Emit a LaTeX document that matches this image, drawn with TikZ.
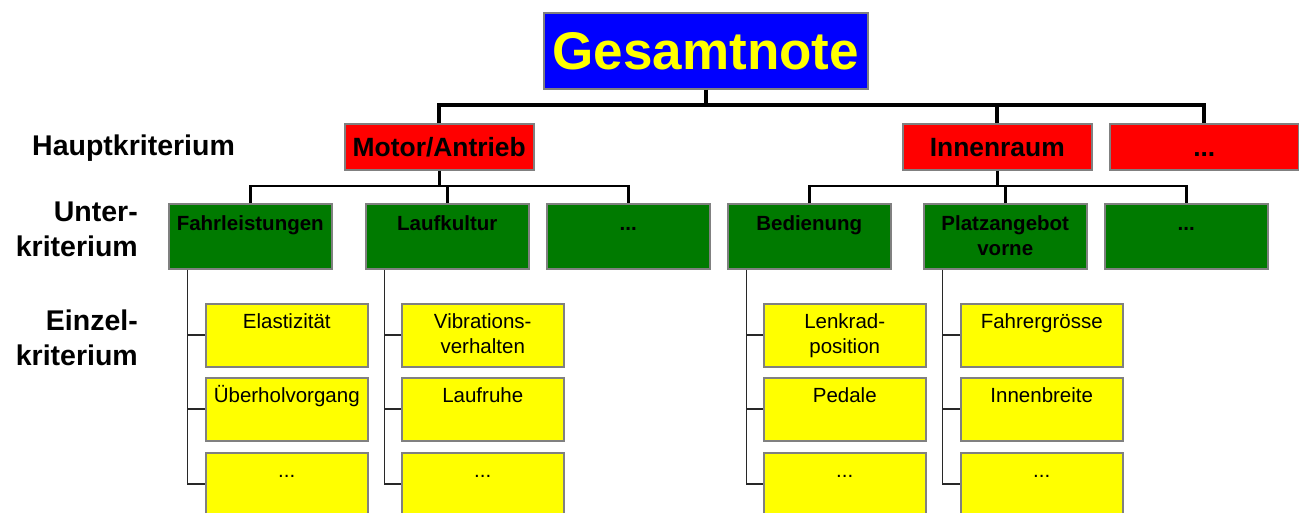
\documentclass[tikz,border=0pt]{standalone}
\usepackage{fontspec}
\setmainfont{Liberation Sans}
\definecolor{bordergray}{RGB}{128,128,128}
\definecolor{topblue}{RGB}{0,0,255}
\definecolor{mainred}{RGB}{255,0,0}
\definecolor{subgreen}{RGB}{0,122,0}
\definecolor{leafyellow}{RGB}{255,255,0}
\definecolor{leafline}{RGB}{40,40,40}
\begin{document}
\begin{tikzpicture}[x=1pt,y=-1pt,
  box/.style={draw=bordergray, line width=1.5pt, inner sep=0pt, anchor=north west},
  topbox/.style={box, fill=topblue, minimum width=324pt, minimum height=76pt,
    text=leafyellow, font=\fontsize{53}{60}\selectfont\bfseries,
    text height=38pt, text depth=0pt},
  hauptbox/.style={box, fill=mainred, minimum width=189pt, minimum height=46pt,
    font=\fontsize{26.4}{30}\selectfont\bfseries, text height=18.9pt, text depth=0pt},
  unterbox/.style={box, fill=subgreen, minimum width=163pt, minimum height=65pt},
  einzelbox/.style={box, fill=leafyellow, minimum width=162pt, minimum height=63pt},
  untertext/.style={inner sep=0pt, anchor=base, align=center,
    font=\fontsize{20.5}{25}\selectfont\bfseries},
  einzeltext/.style={inner sep=0pt, anchor=base, align=center,
    font=\fontsize{20.5}{25}\selectfont},
  levellabel/.style={inner sep=0pt, font=\fontsize{28.5}{35}\selectfont\bfseries},
  busmain/.style={line width=3.8pt, black},
  bussub/.style={line width=2.8pt, black},
  leafconn/.style={line width=1.8pt, leafline}
]
\useasboundingbox[fill=white] (0,0) rectangle (1299,512);

% level captions (multi-line nodes sit on the baseline of their last line)
\node[levellabel, anchor=base west] (capHaupt) at (32,155) {Hauptkriterium};
\node[levellabel, anchor=base east, align=right] (capUnter) at (138,256) {Unter-\\kriterium};
\node[levellabel, anchor=base east, align=right] (capEinzel) at (138,365) {Einzel-\\kriterium};

% overall grade
\node[topbox] (G) at (543,12) {Gesamtnote};

% main criteria
\node[hauptbox] (motor) at (344,123) {Motor/Antrieb};
\node[hauptbox] (inn) at (902,123) {Innenraum};
\node[hauptbox] (rdots) at (1109,123) {...};

% sub criteria: name, left edge, baseline of last text line below top, text
\newcommand\unterbox[4]{%
  \node[unterbox] (#1) at (#2,203) {};
  \node[untertext] (#1-t) at ([yshift=-#3pt]#1.north) {#4};}
\unterbox{fahr}{168}{27}{Fahrleistungen}
\unterbox{lauf}{365}{27}{Laufkultur}
\unterbox{mdots}{546}{27}{...}
\unterbox{bed}{727}{27}{Bedienung}
\unterbox{platz}{923}{52}{Platzangebot\\vorne}
\unterbox{idots}{1104}{27}{...}

% single criteria: name, left edge, top, baseline of last text line below top, text
\newcommand\einzelbox[5]{%
  \node[einzelbox] (#1) at (#2,#3) {};
  \node[einzeltext] (#1-t) at ([yshift=-#4pt]#1.north) {#5};}
\einzelbox{e11}{205}{303}{25}{Elastizität}
\einzelbox{e12}{205}{377}{25}{Überholvorgang}
\einzelbox{e13}{205}{452}{25}{...}
\einzelbox{e21}{401}{303}{50}{Vibrations-\\verhalten}
\einzelbox{e22}{401}{377}{25}{Laufruhe}
\einzelbox{e23}{401}{452}{25}{...}
\einzelbox{e31}{763}{303}{50}{Lenkrad-\\position}
\einzelbox{e32}{763}{377}{25}{Pedale}
\einzelbox{e33}{763}{452}{25}{...}
\einzelbox{e41}{960}{303}{25}{Fahrergrösse}
\einzelbox{e42}{960}{377}{25}{Innenbreite}
\einzelbox{e43}{960}{452}{25}{...}

% top-level bus
\coordinate (bus0) at (0,105);
\draw[busmain] (G.south) -- (G.south |- bus0);
\draw[busmain] (motor.north) -- (motor.north |- bus0) -- (rdots.north |- bus0) -- (rdots.north);
\draw[busmain] (inn.north) -- (inn.north |- bus0);

% second-level buses
\coordinate (bus1) at (0,186);
\draw[bussub] (motor.south) -- (motor.south |- bus1);
\draw[bussub] (fahr.north) -- (fahr.north |- bus1) -- (mdots.north |- bus1) -- (mdots.north);
\draw[bussub] (lauf.north) -- (lauf.north |- bus1);
\draw[bussub] (inn.south) -- (inn.south |- bus1);
\draw[bussub] (bed.north) -- (bed.north |- bus1) -- (idots.north |- bus1) -- (idots.north);
\draw[bussub] (platz.north) -- (platz.north |- bus1);

% spines down to the single criteria
\foreach \parent/\col in {fahr/1, lauf/2, bed/3, platz/4}{
  \coordinate (s\col) at ([xshift=19.5pt]\parent.south west);
  \draw[leafconn] (s\col) |- (e\col3.west);
  \draw[leafconn] (e\col1.west) -- (e\col1.west -| s\col);
  \draw[leafconn] (e\col2.west) -- (e\col2.west -| s\col);
}
\end{tikzpicture}
\end{document}
